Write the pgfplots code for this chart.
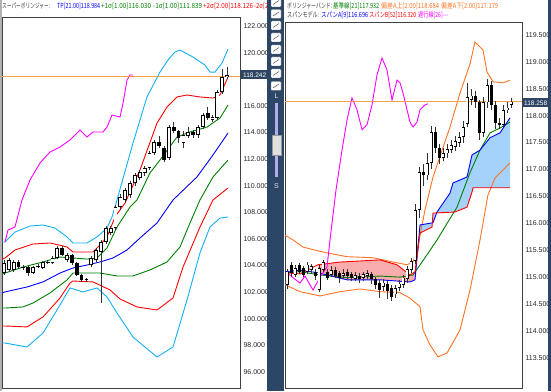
\documentclass[border=0pt]{standalone}
\usepackage{pgfplots}
\pgfplotsset{compat=1.18}
\usepackage{pgfplotstable}
\usepackage{fontspec}
\setmainfont{Liberation Sans}
\newfontfamily\jp{Noto Sans CJK JP}
\usepackage{graphicx}

\definecolor{cy}{RGB}{20,175,245}
\definecolor{gr}{RGB}{0,128,0}
\definecolor{rd}{RGB}{255,0,0}
\definecolor{bl}{RGB}{0,0,255}
\definecolor{mg}{RGB}{255,0,255}
\definecolor{og}{RGB}{255,115,35}
\definecolor{cur}{RGB}{245,160,70}
\definecolor{tool}{RGB}{44,70,104}
\definecolor{pinkf}{RGB}{248,172,172}
\definecolor{bluef}{RGB}{165,210,250}
\definecolor{tagc}{RGB}{46,70,100}
\definecolor{slider}{RGB}{180,170,235}

% ---------- left panel data ----------
\pgfplotstableread[row sep=\\]{x o c h l\\
0 103.44 104.19 104.40 103.30\\
1 103.67 104.42 104.55 103.55\\
2 103.67 104.27 104.40 103.55\\
3 104.27 103.89 104.40 103.75\\
4 103.82 103.89 104.05 103.70\\
5 103.89 103.44 104.00 103.20\\
6 103.44 103.89 104.00 103.35\\
7 103.89 103.92 104.10 103.80\\
8 103.82 104.27 104.35 103.75\\
9 104.19 104.27 104.40 104.10\\
10 104.19 104.57 104.70 104.10\\
11 104.57 105.32 105.45 104.50\\
12 105.32 104.80 105.45 104.70\\
13 104.42 104.80 104.95 104.30\\
14 104.80 104.19 104.90 104.05\\
15 104.19 103.29 104.30 103.20\\
16 103.29 102.92 103.40 102.75\\
17 102.95 102.99 103.10 102.80\\
18 104.04 104.57 104.70 103.90\\
19 104.42 105.17 105.30 104.30\\
20 105.02 105.77 105.95 101.20\\
21 105.77 106.82 106.95 105.60\\
22 106.45 106.82 107.00 106.30\\
23 106.82 108.40 108.55 106.70\\
24 108.40 109.15 109.35 108.20\\
25 108.93 109.68 109.85 108.70\\
26 109.30 110.20 110.35 109.10\\
27 110.20 110.81 110.95 110.00\\
28 110.58 111.03 111.20 110.40\\
29 110.96 111.33 111.50 110.70\\
30 111.33 112.46 112.60 111.20\\
31 112.46 113.28 113.45 112.30\\
32 113.28 112.98 113.70 112.85\\
33 112.83 111.93 112.95 111.75\\
34 112.08 114.41 114.55 111.90\\
35 114.41 114.11 114.80 113.95\\
36 114.11 113.59 114.20 113.20\\
37 113.21 113.81 114.10 112.80\\
38 113.74 114.04 114.40 113.60\\
39 114.04 113.81 114.20 113.60\\
40 113.81 114.41 114.55 113.60\\
41 114.41 115.31 115.50 114.30\\
42 115.46 115.09 115.90 114.95\\
43 114.94 115.16 115.30 114.80\\
44 115.09 117.04 117.20 114.95\\
45 117.04 118.17 118.80 116.90\\
46 118.17 118.32 118.90 118.05\\
}\candL

\pgfplotstableread[row sep=\\]{x y\\ -0.41 105.77\\ 0.21 105.77\\ 2.27 106.52\\ 5.36 106.97\\ 8.04 107.05\\ 10.52 106.82\\ 12.99 106.15\\ 14.23 105.70\\ 17.11 105.70\\ 19.18 106.15\\ 21.24 106.82\\ 22.27 107.65\\ 22.89 108.40\\ 23.30 108.93\\ 26.60 113.21\\ 29.48 116.67\\ 32.16 118.54\\ 33.81 119.45\\ 35.26 120.05\\ 36.29 120.20\\ 38.97 119.67\\ 41.44 119.07\\ 42.47 118.54\\ 43.51 118.54\\ 44.95 119.22\\ 46.19 120.27\\}\cyanU
\pgfplotstableread[row sep=\\]{x y\\ -0.41 104.49\\ 0.21 104.57\\ 2.27 105.17\\ 5.98 105.62\\ 9.48 105.70\\ 12.99 105.40\\ 14.23 105.02\\ 18.35 105.02\\ 19.79 105.55\\ 21.24 106.15\\ 22.89 107.65\\ 24.95 108.70\\ 28.04 111.18\\ 31.55 114.71\\ 33.61 115.91\\ 35.67 116.67\\ 37.73 116.82\\ 40.41 116.67\\ 43.09 116.59\\ 44.54 116.82\\ 46.19 118.17\\}\redU
\pgfplotstableread[row sep=\\]{x y\\ -0.41 103.37\\ 0.21 103.44\\ 3.92 103.89\\ 8.04 104.27\\ 11.55 104.64\\ 14.23 104.57\\ 17.11 104.49\\ 19.18 104.57\\ 21.24 105.32\\ 23.30 106.90\\ 25.98 108.40\\ 27.42 108.93\\ 30.10 110.96\\ 32.16 111.93\\ 35.67 113.66\\ 38.35 114.04\\ 41.86 114.41\\ 44.54 115.09\\ 46.19 116.06\\}\greenU
\pgfplotstableread[row sep=\\]{x y\\ -0.41 101.94\\ 0.21 102.02\\ 4.74 102.39\\ 8.04 102.77\\ 11.55 103.44\\ 14.23 103.82\\ 17.11 104.04\\ 19.79 104.27\\ 22.47 104.57\\ 25.36 105.17\\ 28.04 106.07\\ 31.55 107.20\\ 34.85 108.93\\ 39.79 110.66\\ 43.09 112.31\\ 46.19 113.96\\}\blueM
\pgfplotstableread[row sep=\\]{x y\\ -0.41 100.81\\ 0.21 100.81\\ 3.92 100.89\\ 5.98 101.19\\ 9.48 101.94\\ 12.99 102.92\\ 14.23 103.44\\ 17.11 103.44\\ 19.79 103.44\\ 23.30 103.22\\ 26.60 103.22\\ 30.10 103.67\\ 33.61 104.27\\ 36.29 105.40\\ 38.35 107.20\\ 40.41 108.93\\ 43.09 110.66\\ 46.19 111.93\\}\greenL
\pgfplotstableread[row sep=\\]{x y\\ -0.41 99.46\\ 0.21 99.46\\ 4.74 99.39\\ 8.04 100.14\\ 11.55 101.56\\ 13.61 102.69\\ 14.23 102.84\\ 18.35 102.77\\ 21.86 102.17\\ 23.92 101.49\\ 27.42 100.89\\ 31.55 100.66\\ 34.85 101.56\\ 36.91 103.89\\ 40.41 106.90\\ 43.09 108.93\\ 46.19 109.83\\}\redL
\pgfplotstableread[row sep=\\]{x y\\ -0.41 98.18\\ 0.21 98.18\\ 4.74 97.88\\ 8.04 98.93\\ 10.93 100.66\\ 13.61 102.32\\ 16.29 102.02\\ 19.18 102.32\\ 21.24 101.64\\ 23.30 100.44\\ 26.60 98.63\\ 31.55 97.13\\ 34.85 97.88\\ 37.73 101.41\\ 40.41 104.95\\ 42.47 106.90\\ 44.54 107.57\\ 46.19 107.65\\}\cyanL
\pgfplotstableread[row sep=\\]{x y\\ 0.21 105.77\\ 0.82 106.67\\ 2.27 106.90\\ 3.71 108.93\\ 5.36 110.43\\ 7.42 111.71\\ 9.48 112.53\\ 11.55 112.91\\ 13.61 113.44\\ 15.67 114.19\\ 17.11 113.66\\ 18.35 114.04\\ 20.41 114.04\\ 21.24 114.41\\ 22.27 115.31\\ 23.92 115.16\\ 24.54 116.21\\ 25.36 117.94\\ 25.98 118.32\\ 26.60 118.32\\}\magL

% ---------- right panel data ----------
\pgfplotstableread[row sep=\\]{x o c h l\\
0 114.86 115.10 115.15 114.78\\
1 115.23 115.08 115.28 115.00\\
2 115.04 115.17 115.23 115.00\\
3 115.22 115.10 115.26 115.05\\
4 115.17 115.04 115.20 115.00\\
5 115.10 115.23 115.28 115.05\\
6 115.13 115.20 115.25 115.08\\
7 115.10 115.02 115.15 114.95\\
8 114.76 115.17 115.22 114.72\\
9 115.13 115.28 115.32 115.10\\
10 115.10 114.99 115.15 114.95\\
11 115.04 115.13 115.20 115.00\\
12 115.13 115.02 115.18 114.98\\
13 115.08 114.99 115.12 114.90\\
14 115.02 115.08 115.15 114.97\\
15 115.10 115.02 115.16 114.96\\
16 115.06 114.99 115.10 114.92\\
17 114.97 115.04 115.10 114.92\\
18 115.02 114.97 115.08 114.90\\
19 114.99 115.06 115.10 114.92\\
20 115.02 115.08 115.14 114.97\\
21 115.06 114.97 115.10 114.88\\
22 114.97 114.86 115.00 114.78\\
23 114.90 114.77 114.95 114.62\\
24 114.82 114.90 114.96 114.75\\
25 114.88 114.75 114.92 114.60\\
26 114.80 114.64 114.86 114.55\\
27 114.68 114.80 114.86 114.62\\
28 114.80 114.88 114.95 114.75\\
29 114.86 114.99 115.04 114.80\\
30 114.97 115.15 115.20 114.90\\
31 115.13 115.30 115.35 115.08\\
32 115.30 116.25 116.35 115.25\\
33 116.25 116.95 117.05 116.10\\
34 116.95 116.89 117.10 116.70\\
35 116.89 117.12 117.30 116.80\\
36 117.12 117.70 117.80 117.00\\
37 117.70 117.40 117.78 117.30\\
38 117.40 117.22 117.48 117.10\\
39 117.22 117.30 117.40 117.15\\
40 117.30 117.38 117.48 117.22\\
41 117.36 117.45 117.55 117.30\\
42 117.42 117.52 117.62 117.35\\
43 117.50 117.60 117.70 117.42\\
44 117.60 117.79 117.90 117.50\\
45 117.85 118.35 118.60 117.78\\
46 118.30 118.37 118.50 118.20\\
47 118.37 118.25 118.45 118.15\\
48 118.25 117.68 118.30 117.55\\
49 117.68 118.25 118.35 117.60\\
50 118.25 118.57 118.68 118.15\\
51 118.57 118.20 118.65 118.10\\
52 118.20 117.87 118.28 117.75\\
53 117.87 117.83 117.95 117.75\\
54 117.83 118.10 118.20 117.78\\
55 118.10 118.15 118.25 118.05\\
56 118.20 118.26 118.32 118.15\\
}\candR

\pgfplotstableread[row sep=\\]{x y\\ -0.5 115.78\\ 1.5 115.69\\ 4 115.56\\ 6.5 115.51\\ 10 115.45\\ 15 115.38\\ 21.5 115.36\\ 26.5 115.28\\ 30 115.23\\ 31.5 115.28\\ 32.5 115.51\\ 33.25 115.78\\ 34.5 116.25\\ 36.5 116.86\\ 40.75 117.79\\ 43.25 118.42\\ 45.75 118.96\\ 47 119.37\\ 49 119.22\\ 50 118.81\\ 51.5 118.63\\ 54 118.61\\ 55.75 118.66\\}\ogU
\pgfplotstableread[row sep=\\]{x y\\ -0.5 114.86\\ 3.25 114.73\\ 8.25 114.65\\ 13.25 114.73\\ 18.25 114.78\\ 23.25 114.73\\ 28.25 114.71\\ 30.75 114.61\\ 33.25 114.45\\ 34 114.02\\ 35.75 113.74\\ 37.75 113.52\\ 40 113.59\\ 43.25 114.02\\ 45.75 114.76\\ 48.25 115.69\\ 50.25 116.53\\ 52 116.84\\ 54 116.99\\ 55.75 117.12\\}\ogL
\pgfplotstableread[row sep=\\]{x y\\ -0.5 115.08\\ 3.25 115.10\\ 8.25 115.04\\ 15 114.99\\ 23.25 115.02\\ 28.25 115.00\\ 31.5 115.04\\ 34.5 115.36\\ 37.5 115.69\\ 42.5 116.30\\ 45.75 116.94\\ 48.25 117.36\\ 50.75 117.68\\ 53.25 117.77\\ 55.75 117.88\\}\grR
\pgfplotstableread[row sep=\\]{x y\\ -0.5 115.10\\ 3.25 115.13\\ 7.75 115.08\\ 15 114.95\\ 23.25 114.95\\ 30.75 114.91\\ 32 114.95\\ 33.25 115.97\\ 36.5 116.01\\ 37.5 116.21\\ 40.75 116.56\\ 41.5 116.75\\ 45 116.86\\ 46.25 117.27\\ 48.25 117.36\\ 50.75 117.59\\ 53.25 117.68\\ 55.75 117.96\\}\spanA
\pgfplotstableread[row sep=\\]{x y\\ -0.5 115.08\\ 3.25 115.06\\ 7.75 115.23\\ 13.25 115.28\\ 23.25 115.32\\ 27.5 115.23\\ 30.75 115.04\\ 32 115.10\\ 32.75 115.51\\ 33.25 115.82\\ 36.25 115.93\\ 36.5 116.19\\ 42 116.21\\ 45 116.30\\ 46.25 116.58\\ 46.5 116.66\\ 55.75 116.66\\}\spanB
% cloud outlines (span B over span A, then span A over span B)
\pgfplotstableread[row sep=\\]{x y\\ 7.75 115.23\\ 13.25 115.28\\ 23.25 115.32\\ 27.5 115.23\\ 30.75 115.04\\ 32 115.10\\ 32.7 115.50\\ 32 114.95\\ 30.75 114.91\\ 23.25 114.95\\ 15 114.95\\ 7.75 115.08\\}\cloudPink
\pgfplotstableread[row sep=\\]{x y\\ 32.7 115.50\\ 33.25 115.97\\ 36.5 116.01\\ 37.5 116.21\\ 40.75 116.56\\ 41.5 116.75\\ 45 116.86\\ 46.25 117.27\\ 48.25 117.36\\ 50.75 117.59\\ 53.25 117.68\\ 55.75 117.96\\ 55.75 116.66\\ 46.5 116.66\\ 46.25 116.58\\ 45 116.30\\ 42 116.21\\ 36.5 116.19\\ 36.25 115.93\\ 33.25 115.82\\}\cloudBlue
\pgfplotstableread[row sep=\\]{x y\\ 0 115.08\\ 1.5 114.99\\ 3.25 114.89\\ 4.5 115.02\\ 6.5 114.76\\ 8.25 115.00\\ 9 115.08\\ 10 115.19\\ 10.75 115.69\\ 12.25 116.62\\ 13.75 117.36\\ 15 117.92\\ 16.25 118.33\\ 17.5 118.11\\ 18.75 117.74\\ 20 117.83\\ 21.25 118.20\\ 22.5 118.76\\ 23.75 119.07\\ 25 118.85\\ 26.25 118.29\\ 27.5 118.66\\ 28.25 118.61\\ 29 118.42\\ 30 118.11\\ 30.75 117.88\\ 31.5 117.79\\ 32.5 117.88\\ 33.25 118.11\\ 34.5 118.20\\ 35.25 118.22\\}\magR

\newcommand{\hd}[5]{\node[anchor=base west,inner sep=0pt,text=#3,font=\jp\fontsize{7}{8}\selectfont] at (#1,#2) {\resizebox{#4pt}{\height}{#5}};}

\begin{document}
\begin{tikzpicture}[x=1pt,y=1pt]
\useasboundingbox (0,0) rectangle (551,391);
\fill[white] (0,0) rectangle (551,391);
\fill[black!30] (0,0) rectangle (1.5,391);

% ================= LEFT PANEL =================
\begin{axis}[at={(2pt,3pt)},anchor=south west,scale only axis,width=238pt,height=371pt,
  xmin=-0.41,xmax=48.66,ymin=94.80,ymax=122.68,
  xtick=\empty, ytick={96,98,100,102,104,106,108,110,112,114,116,120,122}, yticklabel pos=right, major tick length=0pt,
  yticklabel={\pgfmathprintnumber[fixed,fixed zerofill,precision=3,1000 sep={},assume math mode=true]{\tick}},
  yticklabel style={font=\fontsize{7}{8}\selectfont, text=black!85},
  axis line style={draw=black!75, line width=0.8pt}]
\addplot[cy, line width=0.9pt] table {\cyanU};
\addplot[cy, line width=0.9pt] table {\cyanL};
\addplot[rd, line width=0.9pt] table {\redU};
\addplot[rd, line width=0.9pt] table {\redL};
\addplot[gr, line width=0.9pt] table {\greenU};
\addplot[gr, line width=0.9pt] table {\greenL};
\addplot[bl, line width=0.9pt] table {\blueM};
\addplot[mg, line width=0.9pt] table {\magL};
\addplot[cur, line width=0.6pt] coordinates {(-0.41,118.242) (48.66,118.242)};
\addplot[black!80, line width=0.6pt, mark=none, quiver={u=0, v=\thisrow{h}-\thisrow{l}}] table[x=x, y=l] {\candL};
\addplot[black, line width=3.8pt, mark=none, quiver={u=0, v={max(abs(\thisrow{c}-\thisrow{o}),0.07)}}] table[x=x, y expr={min(\thisrow{o},\thisrow{c})}] {\candL};
\addplot[white, line width=2.3pt, mark=none, quiver={u=0, v={(\thisrow{c}>\thisrow{o})*max(\thisrow{c}-\thisrow{o}-0.1,0)}}] table[x=x, y expr={min(\thisrow{o},\thisrow{c})+0.05}] {\candL};
\end{axis}

% ================= RIGHT PANEL =================
\begin{axis}[at={(285pt,3pt)},anchor=south west,scale only axis,width=237pt,height=366pt,
  xmin=-0.5,xmax=58.75,ymin=112.94,ymax=119.74,
  xtick=\empty, ytick={113.5,114,114.5,115,115.5,116,116.5,117,117.5,118,118.5,119,119.5}, yticklabel pos=right, major tick length=0pt,
  yticklabel={\pgfmathprintnumber[fixed,fixed zerofill,precision=3,1000 sep={},assume math mode=true]{\tick}},
  yticklabel style={font=\fontsize{7}{8}\selectfont, text=black!85},
  axis line style={draw=black!75, line width=0.8pt}]
\addplot[fill=pinkf, draw=none] table {\cloudPink} -- cycle;
\addplot[fill=bluef, draw=none] table {\cloudBlue} -- cycle;
\addplot[og, line width=0.9pt] table {\ogU};
\addplot[og, line width=0.9pt] table {\ogL};
\addplot[gr, line width=0.9pt] table {\grR};
\addplot[bl, line width=0.9pt] table {\spanA};
\addplot[rd, line width=0.9pt] table {\spanB};
\addplot[mg, line width=0.9pt] table {\magR};
\addplot[cur, line width=0.6pt] coordinates {(-0.5,118.258) (58.75,118.258)};
\addplot[black!80, line width=0.6pt, mark=none, quiver={u=0, v=\thisrow{h}-\thisrow{l}}] table[x=x, y=l] {\candR};
\addplot[black, line width=3pt, mark=none, quiver={u=0, v={max(abs(\thisrow{c}-\thisrow{o}),0.02)}}] table[x=x, y expr={min(\thisrow{o},\thisrow{c})}] {\candR};
\addplot[white, line width=1.6pt, mark=none, quiver={u=0, v={(\thisrow{c}>\thisrow{o})*max(\thisrow{c}-\thisrow{o}-0.026,0)}}] table[x=x, y expr={min(\thisrow{o},\thisrow{c})+0.013}] {\candR};
\end{axis}

% left header (the last entry is cut by the toolbar)
\begin{scope}
\clip (0,370) rectangle (267,391);
\hd{2}{382}{black!75}{48}{スーパーボリンジャー:}
\hd{57}{382}{bl}{43}{TP[21.00]118.984}
\hd{101}{382}{gr}{50}{+1σ[1.00]116.030}
\hd{153}{382}{gr}{49}{-1σ[1.00]111.839}
\hd{203}{382}{rd}{50}{+2σ[2.00]118.126}
\hd{254}{382}{rd}{19}{-2σ[2.0}
\end{scope}

% toolbar
\fill[tool] (267,0) rectangle (284,391);
\foreach \yc in {388.5,377,365.5,353.5,341.5,329.5,317.5,305} {
  \draw[fill=white, draw=black!60, line width=0.4pt, rounded corners=0.8pt] (271,\yc-4.5) rectangle (281,\yc+4.5);
  \draw[black!70, line width=0.5pt] (273,\yc-2) -- (279,\yc+2);
}
\node[text=black!10, font=\fontsize{7}{8}\selectfont] at (276.5,295) {L};
\fill[slider] (275,214) rectangle (278,288);
\fill[black!12] (272,236) rectangle (281,256);
\draw[black!40, line width=0.3pt] (272,236) rectangle (281,256);
\node[text=black!10, font=\fontsize{7}{8}\selectfont] at (276.5,205) {S};
\fill[tool] (548,0) rectangle (551,391);

% right header
\hd{287}{382}{black!75}{45}{ボリンジャーバンド:}
\hd{333}{382}{gr}{46}{基準線[21]117.932}
\hd{381}{382}{og}{58}{偏差A上[2.00]118.684}
\hd{441}{382}{og}{57}{偏差A下[2.00]117.179}
\hd{287}{373}{black!75}{32}{スパンモデル:}
\hd{321}{373}{bl}{47}{スパンA[9]116.696}
\hd{369}{373}{rd}{47}{スパンB[52]116.320}
\hd{418}{373}{mg}{30}{遅行線[26]---}

% price tags
\node[fill=tagc, text=white, font=\fontsize{6.5}{7}\selectfont, inner sep=0pt, minimum width=27pt, minimum height=9pt, anchor=west] at (241,316) {118.242};
\node[fill=tagc, text=white, font=\fontsize{6.5}{7}\selectfont, inner sep=0pt, minimum width=25pt, minimum height=9pt, anchor=west] at (523,288) {118.258};
\end{tikzpicture}
\end{document}
